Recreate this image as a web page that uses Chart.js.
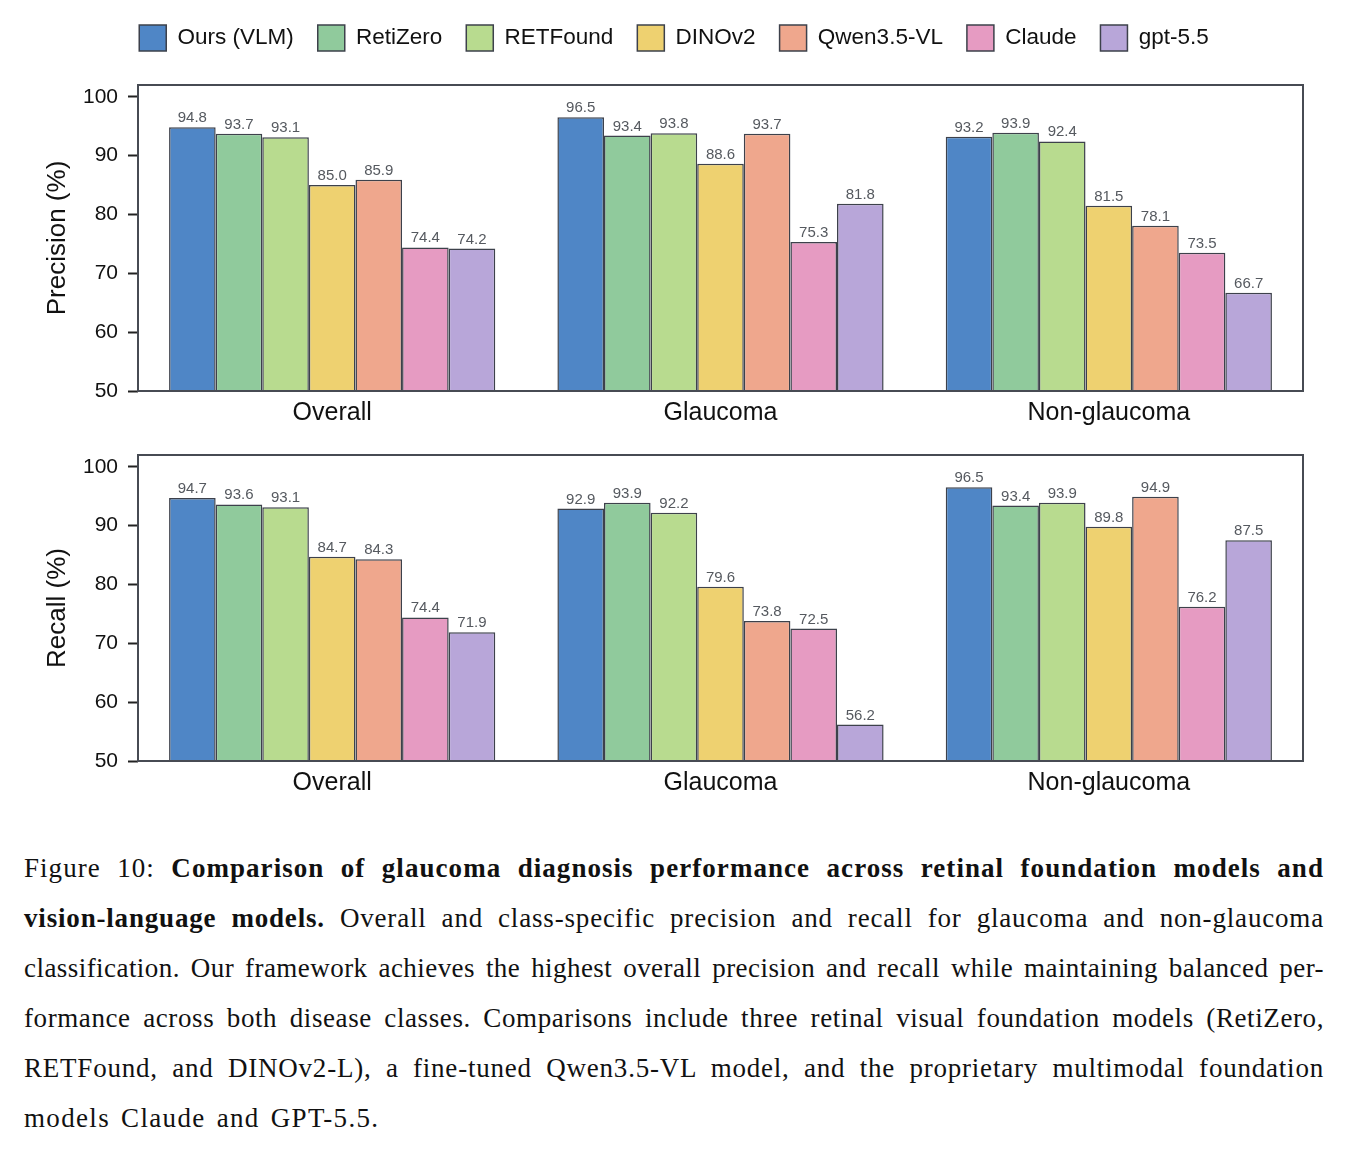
<!DOCTYPE html>
<html lang="en">
<head>
    <meta charset="UTF-8">
    <title>Glaucoma precision / recall</title>
    <script src="https://cdn.jsdelivr.net/npm/chart.js"></script>
    <style>
        body {
            margin: 0;
            background: #fff;
            overflow: hidden;
            width: 1348px;
            height: 1151px;
            position: relative;
        }
        .chart-box {
            position: absolute;
            left: 0;
            width: 1348px;
        }
        #box1 { top: 0; height: 430px; }
        #box2 { top: 430px; height: 380px; }
        .caption {
            position: absolute;
            left: 24px;
            top: 843px;
            width: 1300px;
            font-family: "Liberation Serif", "DejaVu Serif", serif;
            font-size: 27px;
            color: #111;
        }
        .caption div {
            height: 50px;
            line-height: 50px;
            white-space: nowrap;
        }
        .caption span {
            display: inline-block;
        }
    </style>
</head>
<body>
    <div class="chart-box" id="box1"><canvas id="precisionChart"></canvas></div>
    <div class="chart-box" id="box2"><canvas id="recallChart"></canvas></div>

    <div class="caption" id="caption">
        <div class="fill"><span>Figure 10: <b>Comparison of glaucoma diagnosis performance across retinal foundation models and</b></span></div>
        <div class="fill"><span><b>vision-language models.</b> Overall and class-specific precision and recall for glaucoma and non-glaucoma</span></div>
        <div class="fill"><span>classification. Our framework achieves the highest overall precision and recall while maintaining balanced per-</span></div>
        <div class="fill"><span>formance across both disease classes. Comparisons include three retinal visual foundation models (RetiZero,</span></div>
        <div class="fill"><span>RETFound, and DINOv2-L), a fine-tuned Qwen3.5-VL model, and the proprietary multimodal foundation</span></div>
        <div class="last"><span>models Claude and GPT-5.5.</span></div>
    </div>

    <script>
        const categories = ['Overall', 'Glaucoma', 'Non-glaucoma'];
        const models = ['Ours (VLM)', 'RetiZero', 'RETFound', 'DINOv2', 'Qwen3.5-VL', 'Claude', 'gpt-5.5'];
        const modelColors = ['#4f86c6', '#90ca9c', '#b8db8f', '#eed170', '#efa78d', '#e69bc2', '#b8a6d9'];
        const yTicks = [50, 60, 70, 80, 90, 100];

        // precision per category, one value per model (same order as models)
        const precOverall = [94.8, 93.7, 93.1, 85.0, 85.9, 74.4, 74.2];
        const precGlaucoma = [96.5, 93.4, 93.8, 88.6, 93.7, 75.3, 81.8];
        const precNonGlaucoma = [93.2, 93.9, 92.4, 81.5, 78.1, 73.5, 66.7];

        // recall per category
        const recOverall = [94.7, 93.6, 93.1, 84.7, 84.3, 74.4, 71.9];
        const recGlaucoma = [92.9, 93.9, 92.2, 79.6, 73.8, 72.5, 56.2];
        const recNonGlaucoma = [96.5, 93.4, 93.9, 89.8, 94.9, 76.2, 87.5];

        const edgeColor = '#3d414b';
        const frameColor = '#474b53';
        const sans = '"Liberation Sans", Arial, sans-serif';

        function buildDatasets(byCategory) {
            return models.map((name, m) => ({
                label: name,
                data: byCategory.map(arr => arr[m]),
                backgroundColor: modelColors[m],
                borderColor: edgeColor,
                borderWidth: 1.5,
                borderSkipped: false,
                categoryPercentage: 0.84,
                barPercentage: 1.0
            }));
        }

        // box around the plot area + value labels above bars
        const framePlugin = {
            id: 'frameAndLabels',
            afterDatasetsDraw(chart) {
                const ctx = chart.ctx;
                const a = chart.chartArea;
                ctx.save();
                ctx.strokeStyle = frameColor;
                ctx.lineWidth = 2;
                ctx.strokeRect(a.left, a.top, a.right - a.left, a.bottom - a.top);

                ctx.fillStyle = '#55595f';
                ctx.font = '15px ' + sans;
                ctx.textAlign = 'center';
                ctx.textBaseline = 'alphabetic';
                chart.data.datasets.forEach((ds, i) => {
                    const meta = chart.getDatasetMeta(i);
                    meta.data.forEach((bar, j) => {
                        ctx.fillText(ds.data[j].toFixed(1), bar.x, bar.y - 5);
                    });
                });
                ctx.restore();
            }
        };

        // fixed legend height, and center the legend on the whole canvas
        const legendHeightPlugin = {
            id: 'legendHeight',
            beforeLayout(chart, args, opts) {
                const lg = chart.legend;
                if (lg && !lg._fixed) {
                    const origFit = lg.fit;
                    lg.fit = function () {
                        origFit.call(this);
                        if (this.options.display) this.height = opts.height;
                    };
                    lg._fixed = true;
                }
            },
            afterLayout(chart) {
                const lg = chart.legend;
                if (lg && lg.options.display) {
                    lg.left = 0;
                    lg.right = chart.width;
                    lg.width = chart.width;
                }
            }
        };

        function makeChart(canvasId, byCategory, yTitle, showLegend, topPad, xAxisHeight) {
            const ctx = document.getElementById(canvasId).getContext('2d');
            return new Chart(ctx, {
                type: 'bar',
                data: {
                    labels: categories,
                    datasets: buildDatasets(byCategory)
                },
                options: {
                    responsive: true,
                    maintainAspectRatio: false,
                    animation: false,
                    layout: {
                        padding: { left: 0, right: 45, top: topPad, bottom: 0 }
                    },
                    plugins: {
                        legend: {
                            display: showLegend,
                            position: 'top',
                            labels: {
                                boxWidth: 27,
                                boxHeight: 26,
                                padding: 24,
                                color: '#111',
                                font: { family: sans, size: 22.5 }
                            }
                        },
                        legendHeight: { height: 84 },
                        tooltip: { enabled: false }
                    },
                    scales: {
                        x: {
                            grid: { display: false, drawTicks: false },
                            border: { display: false },
                            ticks: {
                                padding: 7,
                                color: '#111',
                                font: { family: sans, size: 25 }
                            },
                            afterFit(scale) { scale.height = xAxisHeight; }
                        },
                        y: {
                            min: 50,
                            max: 102,
                            border: { display: false },
                            grid: {
                                display: true,
                                drawOnChartArea: false,
                                drawTicks: true,
                                tickLength: 10,
                                tickWidth: 2,
                                tickColor: '#222'
                            },
                            ticks: {
                                padding: 10,
                                color: '#111',
                                font: { family: sans, size: 21 }
                            },
                            afterBuildTicks(scale) {
                                scale.ticks = yTicks.map(v => ({ value: v }));
                            },
                            title: {
                                display: true,
                                text: yTitle,
                                color: '#111',
                                padding: { top: 42, bottom: 0 },
                                font: { family: sans, size: 26, lineHeight: 1.2 }
                            },
                            afterFit(scale) { scale.width = 138; }
                        }
                    }
                },
                plugins: [framePlugin, legendHeightPlugin]
            });
        }

        makeChart('precisionChart', [precOverall, precGlaucoma, precNonGlaucoma], 'Precision (%)', true, 1, 39);
        makeChart('recallChart', [recOverall, recGlaucoma, recNonGlaucoma], 'Recall (%)', false, 25, 49);

        // caption: stretch each full line to the text width, half by letter
        // spacing and half by word spacing (like a justified TeX paragraph)
        const capWidth = 1300;
        const letterSp = [];
        document.querySelectorAll('#caption .fill span').forEach(sp => {
            const txt = sp.textContent;
            const extra = capWidth - sp.getBoundingClientRect().width;
            const ls = extra * 0.5 / (txt.length - 1);
            sp.style.letterSpacing = ls + 'px';
            letterSp.push(ls);
            const spaces = txt.split(' ').length - 1;
            const extra2 = capWidth - sp.getBoundingClientRect().width;
            sp.style.wordSpacing = (extra2 / spaces) + 'px';
        });
        // last line is not justified, just give it the same glyph spread
        const avgLs = letterSp.reduce((a, b) => a + b, 0) / letterSp.length;
        const lastSpan = document.querySelector('#caption .last span');
        lastSpan.style.letterSpacing = (avgLs * 1.8) + 'px';
        lastSpan.style.wordSpacing = '3px';
    </script>
</body>
</html>
